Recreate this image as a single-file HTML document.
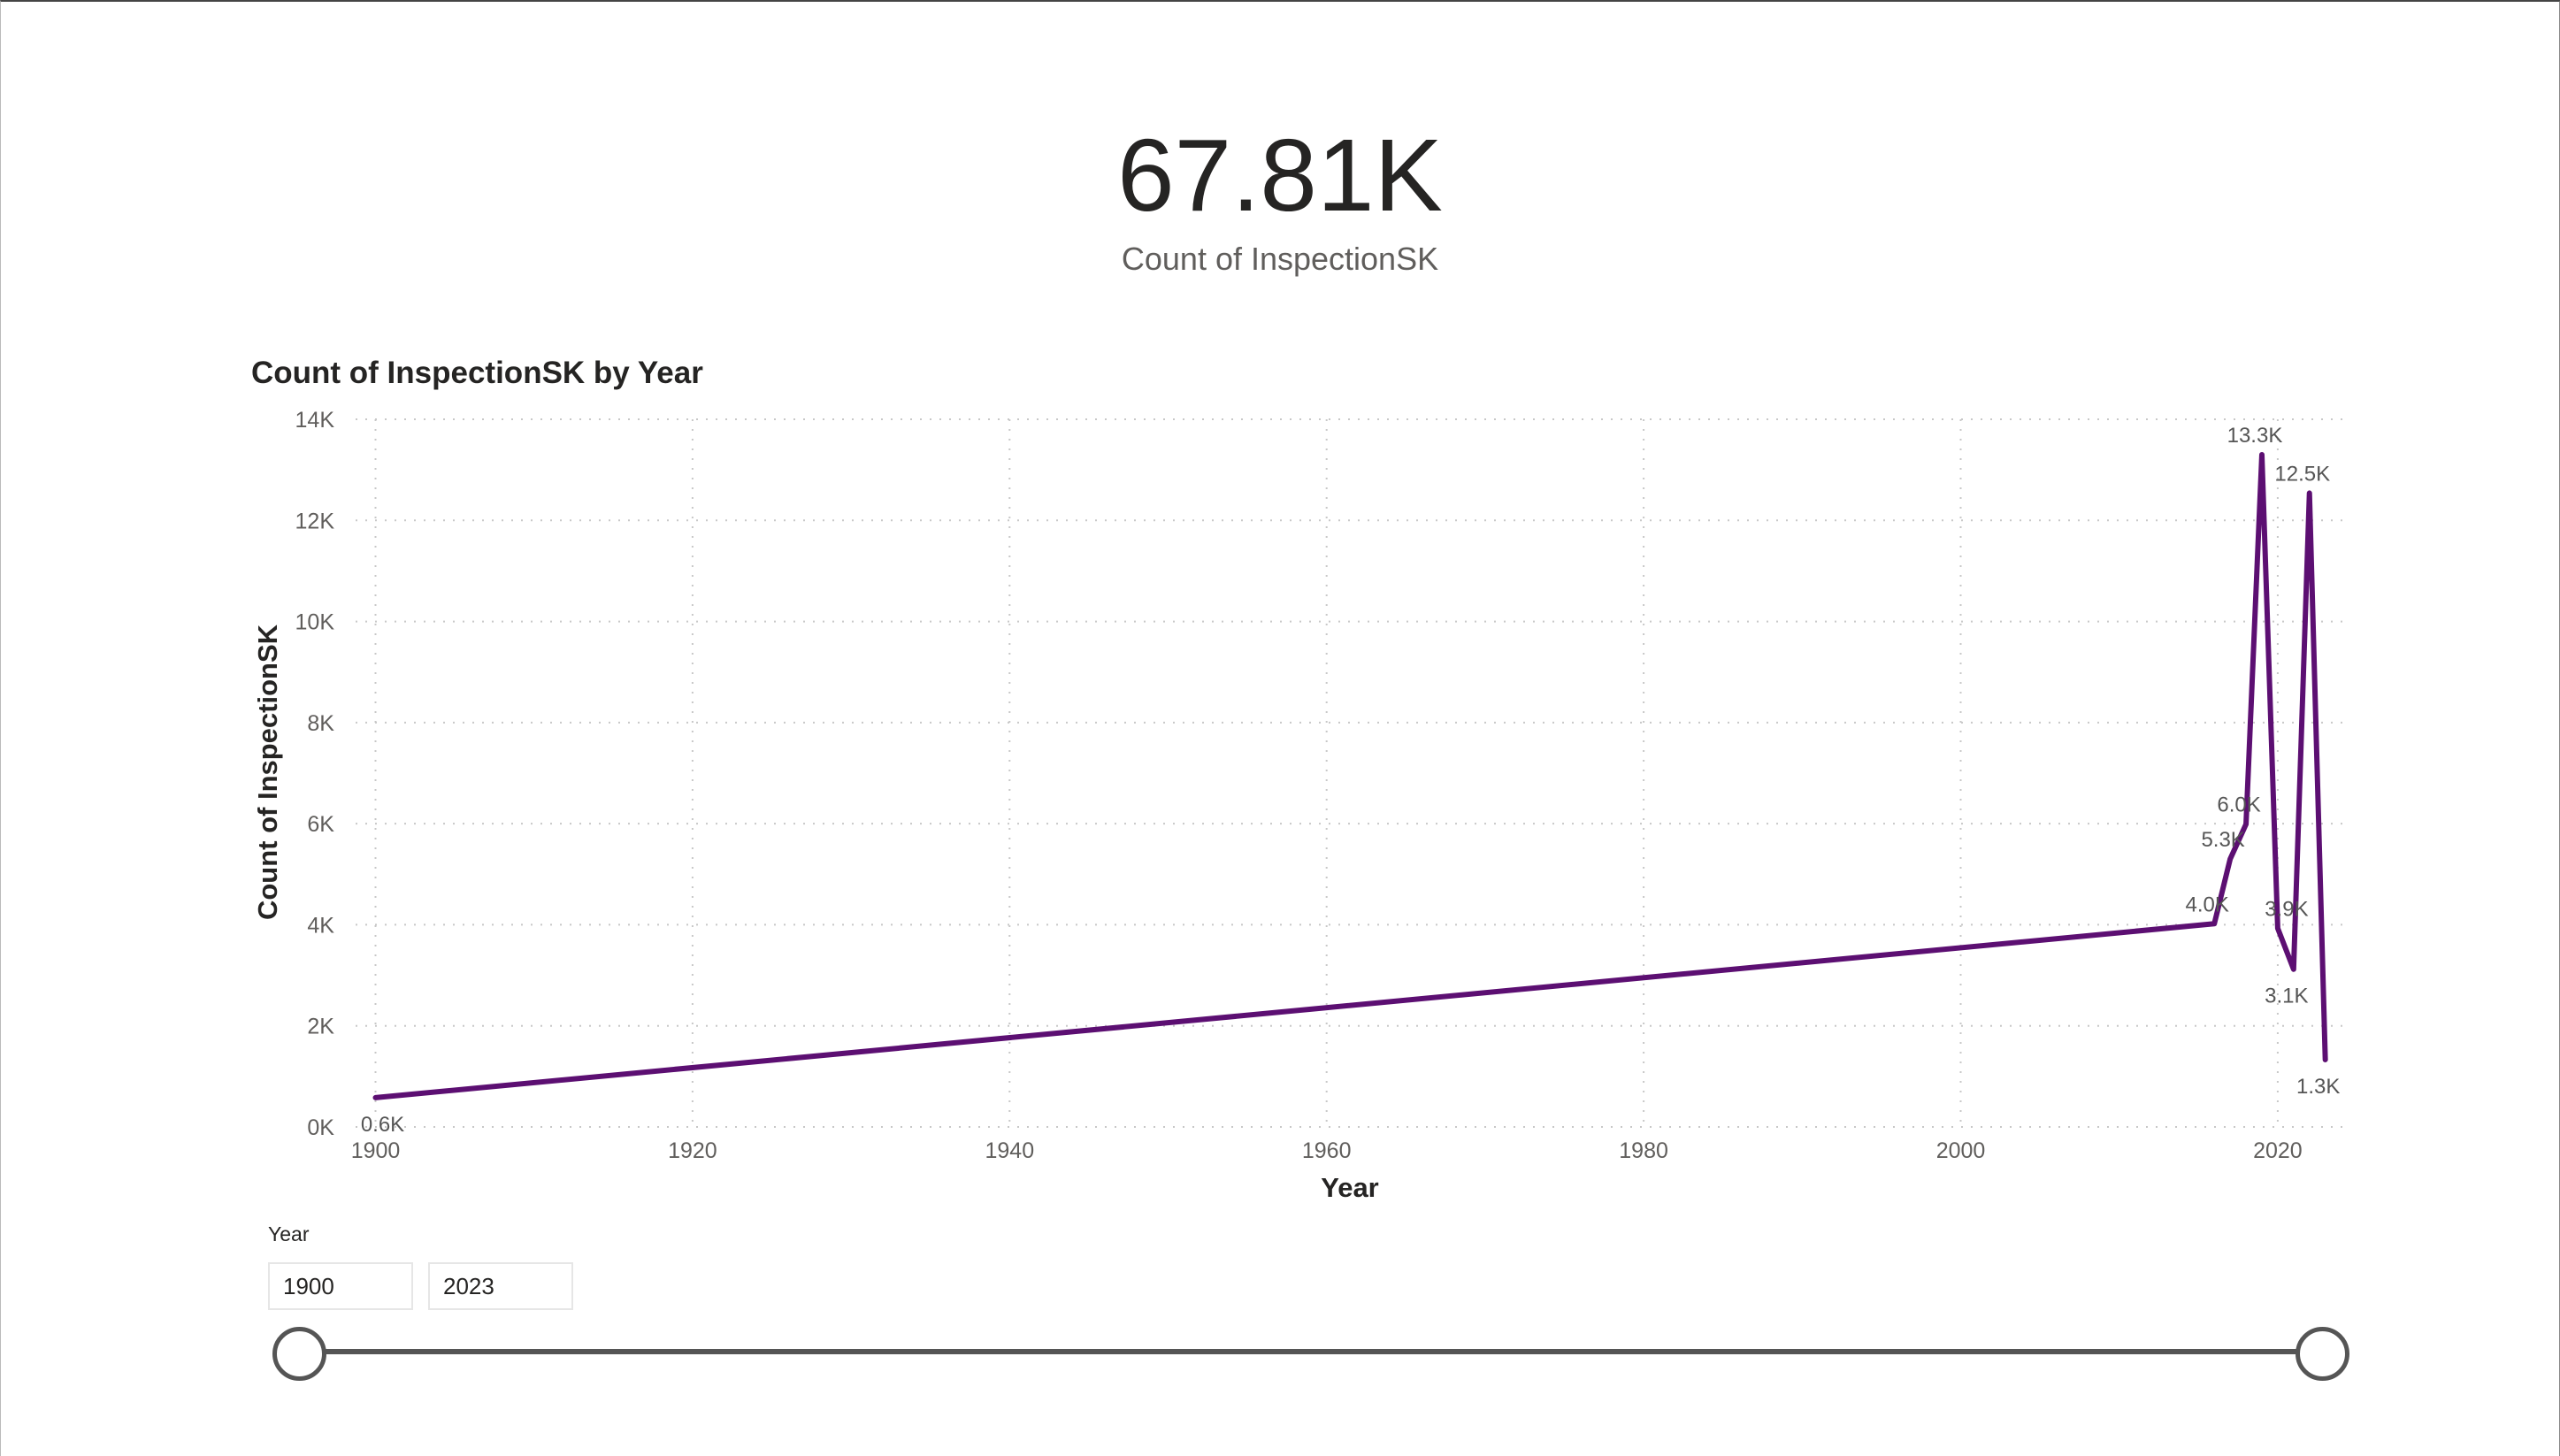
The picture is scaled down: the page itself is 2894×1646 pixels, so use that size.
<!DOCTYPE html>
<html><head><meta charset="utf-8"><style>
html,body{margin:0;padding:0;background:#fff;}
body{width:2894px;height:1646px;position:relative;overflow:hidden;font-family:"Liberation Sans","DejaVu Sans",sans-serif;}
.frame{position:absolute;left:0;top:0;width:2892px;height:1644px;border-top:2px solid #444;border-right:2px solid #888;border-left:1px solid #bbb;}
.kpi{position:absolute;left:0;width:2894px;text-align:center;color:#252423;}
.inp{position:absolute;top:1427px;width:164px;height:54px;border:2px solid #e6e6e6;box-sizing:border-box;font-size:26px;line-height:50px;padding-left:15px;color:#252423;}
</style></head><body>
<div class="frame"></div>
<div class="kpi" style="top:130px;font-size:116px;line-height:136px;">67.81K</div>
<div class="kpi" style="top:272px;font-size:36px;color:#605e5c;">Count of InspectionSK</div>
<div style="position:absolute;left:284px;top:402px;font-size:35px;font-weight:bold;color:#252423;">Count of InspectionSK by Year</div>
<svg id="chart" width="2894" height="1646" style="position:absolute;left:0;top:0;"></svg>
<div style="position:absolute;left:303px;top:1382px;font-size:23px;color:#252423;">Year</div>
<div class="inp" style="left:303px;">1900</div>
<div class="inp" style="left:484px;">2023</div>
<div style="position:absolute;left:336px;top:1525px;width:2287px;height:6px;background:#555;"></div>
<div style="position:absolute;left:308px;top:1500px;width:51px;height:51px;border:5px solid #555;border-radius:50%;background:#fff;"></div>
<div style="position:absolute;left:2595px;top:1500px;width:51px;height:51px;border:5px solid #555;border-radius:50%;background:#fff;"></div>
<script>
const years = [1900, 2016, 2017, 2018, 2019, 2020, 2021, 2022, 2023];
const counts = [580, 4020, 5300, 5990, 13300, 3930, 3120, 12540, 1330];
const valueLabels = ["0.6K","4.0K","5.3K","6.0K","13.3K","3.9K","3.1K","12.5K","1.3K"];
const labelSide = ["below","above","above","above","above","above","below","above","below"];
const yTicks = [0, 2000, 4000, 6000, 8000, 10000, 12000, 14000];
const yTickLabels = ["0K","2K","4K","6K","8K","10K","12K","14K"];
const xTicks = [1900, 1920, 1940, 1960, 1980, 2000, 2020];

const svg = document.getElementById('chart');
const NS = 'http://www.w3.org/2000/svg';
const x0 = 424.5, pxPerYear = 17.92, yBase = 1274, yTop = 474, yMax = 14000;
const xs = v => x0 + (v - 1900) * pxPerYear;
const ys = v => yBase - (v / yMax) * (yBase - yTop);
function el(tag, attrs, txt) {
  const e = document.createElementNS(NS, tag);
  for (const k in attrs) e.setAttribute(k, attrs[k]);
  if (txt !== undefined) e.textContent = txt;
  svg.appendChild(e);
  return e;
}
yTicks.forEach((t, i) => {
  const g = el('line', {x1: 402, x2: 2654, y1: ys(t), y2: ys(t), stroke: '#c8c8c8', 'stroke-width': 2, 'stroke-dasharray': '2 9'});
  
  
  const l = el('text', {x: 378, y: ys(t) + 9, 'text-anchor': 'end', 'font-size': 25, fill: '#605e5c'}, yTickLabels[i]);
  
  
});
xTicks.forEach(t => {
  const g = el('line', {x1: xs(t), x2: xs(t), y1: yTop, y2: yBase, stroke: '#c8c8c8', 'stroke-width': 2, 'stroke-dasharray': '2 9'});
  
  
  const l = el('text', {x: xs(t), y: 1309, 'text-anchor': 'middle', 'font-size': 25, fill: '#605e5c'}, String(t));
  
  
});
const pts = years.map((y, i) => xs(y) + ',' + ys(counts[i])).join(' ');
const line = el('polyline', {points: pts, fill: 'none', stroke: '#5c0f72', 'stroke-width': 6, 'stroke-linejoin': 'round', 'stroke-linecap': 'round'});


years.forEach((y, i) => {
  const below = labelSide[i] === 'below';
  const t = el('text', {x: xs(y) + (i === 0 ? 8 : (i === 5 ? 10 : -8)), y: ys(counts[i]) + (below ? 38 : -14), 'text-anchor': 'middle', 'font-size': 24, fill: '#555'}, valueLabels[i]);
  
  
});
const xt = el('text', {x: 1526, y: 1353, 'text-anchor': 'middle', 'font-size': 31, 'font-weight': 'bold', fill: '#252423'}, 'Year');


const yt = el('text', {x: 0, y: 0, 'text-anchor': 'middle', 'font-size': 31, 'font-weight': 'bold', fill: '#252423', transform: 'translate(313,873) rotate(-90)'}, 'Count of InspectionSK');


</script>
</body></html>
